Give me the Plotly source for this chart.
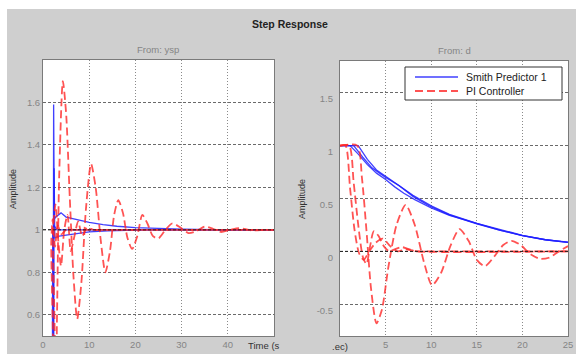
import plotly.graph_objects as go

# ---------------- data ----------------
# Left panel: From: ysp
ysp_pi_t = [[0, 2.5, 3.0, 3.5, 4.3, 5.0, 5.8, 6.6, 7.4, 8.3, 9.3, 10.4, 11.4, 12.5, 13.5, 14.5, 15.4, 16.3,
             17.3, 18.3, 19.3, 20.4, 21.5, 22.6, 23.8, 25, 26.5, 28, 29.8, 31.5, 33.3, 35, 36.8, 38.5, 40.5,
             42.5, 45, 48, 50],
            [0, 1.8, 2.2, 2.7, 3.3, 3.9, 4.6, 5.3, 6.0, 6.8, 7.6, 8.5, 9.5, 11, 13, 16, 50],
            [0, 1.5, 1.8, 2.1, 2.6, 3.2, 4.0, 5, 7, 50]]
ysp_pi_y = [[0, 0, 0.55, 1.25, 1.70, 1.55, 1.15, 0.78, 0.58, 0.75, 1.10, 1.31, 1.20, 0.95, 0.80, 0.90, 1.07, 1.14,
             1.08, 0.96, 0.91, 0.97, 1.07, 1.03, 0.97, 0.96, 1.00, 1.03, 1.01, 0.985, 0.995, 1.015, 1.005, 0.99,
             1.0, 1.008, 0.998, 1.0, 1.0],
            [0, 0, 1.0, 1.12, 0.95, 0.83, 1.0, 1.07, 0.90, 0.97, 1.04, 0.97, 1.01, 1.0, 1.0, 1.0, 1.0],
            [0, 0, 0.95, 1.05, 0.92, 1.02, 0.98, 1.0, 1.0, 1.0]]
ysp_sp_t = [[0, 2.2, 2.3, 2.45, 2.7, 3.2, 3.9, 5, 6, 8, 10, 13, 16, 20, 25, 30, 40, 50],
            [0, 2.3, 2.4, 2.55, 2.8, 3.5, 5, 7, 10, 14, 18, 22, 30, 50],
            [0, 2.0, 2.1, 2.4, 3, 50]]
ysp_sp_y = [[0, 0, 1.59, 1.05, 1.06, 1.07, 1.08, 1.06, 1.055, 1.045, 1.035, 1.025, 1.017, 1.01, 1.006, 1.003, 1.0, 1.0],
            [0, 0, 1.29, 0.96, 0.965, 0.97, 0.975, 0.982, 0.99, 0.995, 0.998, 1.0, 1.0, 1.0],
            [0, 0, 1.0, 1.02, 1.0, 1.0]]

# Right panel: From: d
d_pi_t = [[0, 1.9, 2.4, 2.9, 3.4, 4.0, 4.6, 5.3, 6.2, 7.2, 8.2, 9.2, 10.1, 11.1, 12.1, 13.1, 14.1, 15.0, 15.9,
           16.9, 17.9, 18.8, 19.8, 20.8, 21.9, 22.9, 24, 25],
          [0, 1.0, 1.5, 2.0, 2.5, 2.9, 3.3, 3.7, 4.2, 4.8, 5.4, 6.0, 6.8, 7.6, 8.5, 10, 12, 25],
          [0, 0.6, 1.1, 1.6, 2.1, 2.6, 3.2, 3.9, 4.7, 5.5, 6.3, 7.2, 8.5, 25]]
d_pi_y = [[1, 1, 0.7, 0.2, -0.35, -0.68, -0.55, -0.15, 0.25, 0.44, 0.25, -0.10, -0.32, -0.20, 0.05, 0.21, 0.10,
           -0.08, -0.14, -0.05, 0.06, 0.10, 0.06, -0.02, -0.07, -0.06, 0.0, 0.05],
          [1, 1, 0.65, 0.25, -0.05, -0.12, 0.05, 0.19, 0.15, 0.05, 0.0, 0.02, 0.04, 0.02, 0.0, 0.0, 0.0, 0.0],
          [1, 1, 0.6, 0.2, -0.02, -0.08, 0.0, 0.08, 0.12, 0.05, 0.0, 0.02, 0.0, 0.0]]
d_sp_t = [[0, 1.1, 2, 3, 4, 5, 6, 7, 8.2, 10, 12, 15, 17.5, 20, 22.5, 25],
          [0, 1.5, 2.5, 3.5, 5, 6.5, 8, 10, 12, 15, 17.5, 20, 22.5, 25],
          [0, 2.0, 3.0, 4.0, 5, 6.5, 8, 10, 12, 15, 17.5, 20, 22.5, 25]]
d_sp_y = [[1, 1, 0.92, 0.82, 0.74, 0.68, 0.61, 0.55, 0.49, 0.41, 0.34, 0.26, 0.20, 0.15, 0.11, 0.085],
          [1, 1, 0.89, 0.79, 0.70, 0.62, 0.52, 0.42, 0.345, 0.26, 0.20, 0.15, 0.11, 0.086],
          [1, 1, 0.87, 0.77, 0.71, 0.62, 0.53, 0.43, 0.35, 0.265, 0.205, 0.152, 0.112, 0.087]]

left_xticks = [0, 10, 20, 30, 40]
left_yticks = [0.6, 0.8, 1.0, 1.2, 1.4, 1.6]
left_yticklabels = ["0.6", "0.8", "1", "1.2", "1.4", "1.6"]
right_xticks = [5, 10, 15, 20, 25]
right_yticks = [-0.5, 0, 0.5, 1, 1.5]
right_yticklabels = ["-0.5", "0", "0.5", "1", "1.5"]
left_final = 1.0
right_final = 0.0

series_names = ["Smith Predictor 1", "PI Controller"]

# ---------------- styles ----------------
W, H = 576, 354
FONT = "Liberation Sans, Arial, sans-serif"
BLUE = "rgba(30,30,255,0.85)"
RED = "rgba(255,40,40,0.8)"
RED_DASH = "8px,4px"
GRAYTXT = "#858585"

def px(x):
    return x / W

def py(y):
    return 1 - y / H

fig = go.Figure()

def add_set(ts, ys, color, dash, width, xa, ya, name, shape):
    for t, y in zip(ts, ys):
        fig.add_trace(go.Scatter(
            x=t, y=y, mode="lines", xaxis=xa, yaxis=ya,
            line=dict(color=color, width=width, dash=dash, shape=shape,
                      smoothing=0.7 if shape == "spline" else None),
            name=name, showlegend=False, hoverinfo="skip"))

add_set(ysp_sp_t, ysp_sp_y, BLUE, "solid", 1.3, "x", "y", series_names[0], "linear")
add_set(ysp_pi_t, ysp_pi_y, RED, RED_DASH, 1.8, "x", "y", series_names[1], "spline")
add_set(d_sp_t, d_sp_y, BLUE, "solid", 1.3, "x2", "y2", series_names[0], "linear")
add_set(d_pi_t, d_pi_y, RED, RED_DASH, 1.8, "x2", "y2", series_names[1], "spline")

# helper (invisible) trace so the shifted tick-label axis of the right panel is drawn
fig.add_trace(go.Scatter(x=[0], y=[0], xaxis="x2", yaxis="y3", mode="markers",
                         marker=dict(opacity=0), showlegend=False, hoverinfo="skip"))

axis_common = dict(showline=True, mirror=True, linecolor="#7a7a7a", linewidth=1, zeroline=False,
                   ticks="", tickfont=dict(family=FONT, size=9.5, color=GRAYTXT), automargin=False,
                   showgrid=True, gridwidth=1)

LX0, LX1 = px(43), px(274)
RX0, RX1 = px(340), px(568)
Y0, Y1 = py(336), py(60)
RY1 = py(61)

fig.update_layout(
    width=W, height=H,
    margin=dict(l=0, r=0, t=0, b=0),
    paper_bgcolor="#cfcfcf",
    plot_bgcolor="white",
    showlegend=False,
    xaxis=dict(domain=[LX0, LX1], range=[0, 50], tickvals=left_xticks, anchor="y", **axis_common,
               gridcolor="#8a8a8a", griddash="1px,2px"),
    yaxis=dict(domain=[Y0, Y1], range=[0.5, 1.8], tickvals=left_yticks, ticktext=left_yticklabels,
               anchor="x", **axis_common, gridcolor="#6a6a6a", griddash="3px,2px"),
    xaxis2=dict(domain=[RX0, RX1], range=[0, 25], tickvals=right_xticks, anchor="y2", **axis_common,
                gridcolor="#8a8a8a", griddash="1px,2px"),
    yaxis2=dict(domain=[Y0, RY1], range=[-0.8, 1.8], tickvals=right_yticks, anchor="x2",
                showticklabels=False, **axis_common, gridcolor="#6a6a6a", griddash="3px,2px"),
    yaxis3=dict(domain=[Y0, RY1], range=[-0.8 + 0.057, 1.8 + 0.057], overlaying="y2", anchor="x2",
                side="left", tickvals=right_yticks, ticktext=right_yticklabels, showgrid=False,
                showline=False, zeroline=False, automargin=False, ticks="",
                tickfont=dict(family=FONT, size=9.5, color=GRAYTXT), ticklabelstandoff=6),
)

# steady-state reference lines
fig.add_shape(type="line", xref="x domain", yref="y", x0=0, x1=1, y0=left_final, y1=left_final,
              line=dict(color="#222", width=1, dash="3px,2px"))
fig.add_shape(type="line", xref="x2 domain", yref="y2", x0=0, x1=1, y0=right_final, y1=right_final,
              line=dict(color="#222", width=1, dash="3px,2px"))

# white margins of the picture
fig.add_shape(type="rect", xref="paper", yref="paper", x0=0, x1=1, y0=py(9), y1=1,
              fillcolor="white", line_width=0, layer="above")
fig.add_shape(type="rect", xref="paper", yref="paper", x0=0, x1=px(7), y0=0, y1=1,
              fillcolor="white", line_width=0, layer="above")

# legend box (drawn to match the reference's compact MATLAB legend)
fig.add_shape(type="rect", xref="paper", yref="paper", x0=px(405), x1=px(562), y0=py(100), y1=py(67),
              fillcolor="white", line=dict(color="#333", width=1), layer="above")
legend_rows = [(series_names[0], BLUE, "solid", 1.3, 77), (series_names[1], RED, RED_DASH, 1.8, 91)]
for name, col, dsh, wid, yy in legend_rows:
    fig.add_shape(type="line", xref="paper", yref="paper", x0=px(415), x1=px(458), y0=py(yy), y1=py(yy),
                  line=dict(color=col, width=wid, dash=dsh), layer="above")
    fig.add_annotation(text=name, x=px(464), y=py(yy), xref="paper", yref="paper", showarrow=False,
                       xanchor="left", yanchor="middle", font=dict(family=FONT, size=10.5, color="#222"))

ann = [
    dict(text="<b>Step Response</b>", x=px(290), y=py(24), size=10.5, color="#222"),
    dict(text="From: ysp", x=px(158), y=py(49), size=9.5, color=GRAYTXT),
    dict(text="From: d", x=px(454), y=py(50), size=9.5, color=GRAYTXT),
    dict(text="Time (s", x=px(264), y=py(345), size=9.5, color="#333"),
    dict(text=".ec)", x=px(340), y=py(346), size=9.5, color="#333"),
]
for a in ann:
    fig.add_annotation(text=a["text"], x=a["x"], y=a["y"], xref="paper", yref="paper",
                       showarrow=False, xanchor="center", yanchor="middle",
                       font=dict(family=FONT, size=a["size"], color=a["color"]))
for (xx, yy) in [(13, 189), (302, 199)]:
    fig.add_annotation(text="Amplitude", x=px(xx), y=py(yy), xref="paper", yref="paper",
                       showarrow=False, textangle=-90, xanchor="center", yanchor="middle",
                       font=dict(family=FONT, size=9, color="#333"))

fig.write_html("out.html", config={"displayModeBar": False},
               post_script="document.body.style.margin='0px';document.body.style.overflow='hidden';")
